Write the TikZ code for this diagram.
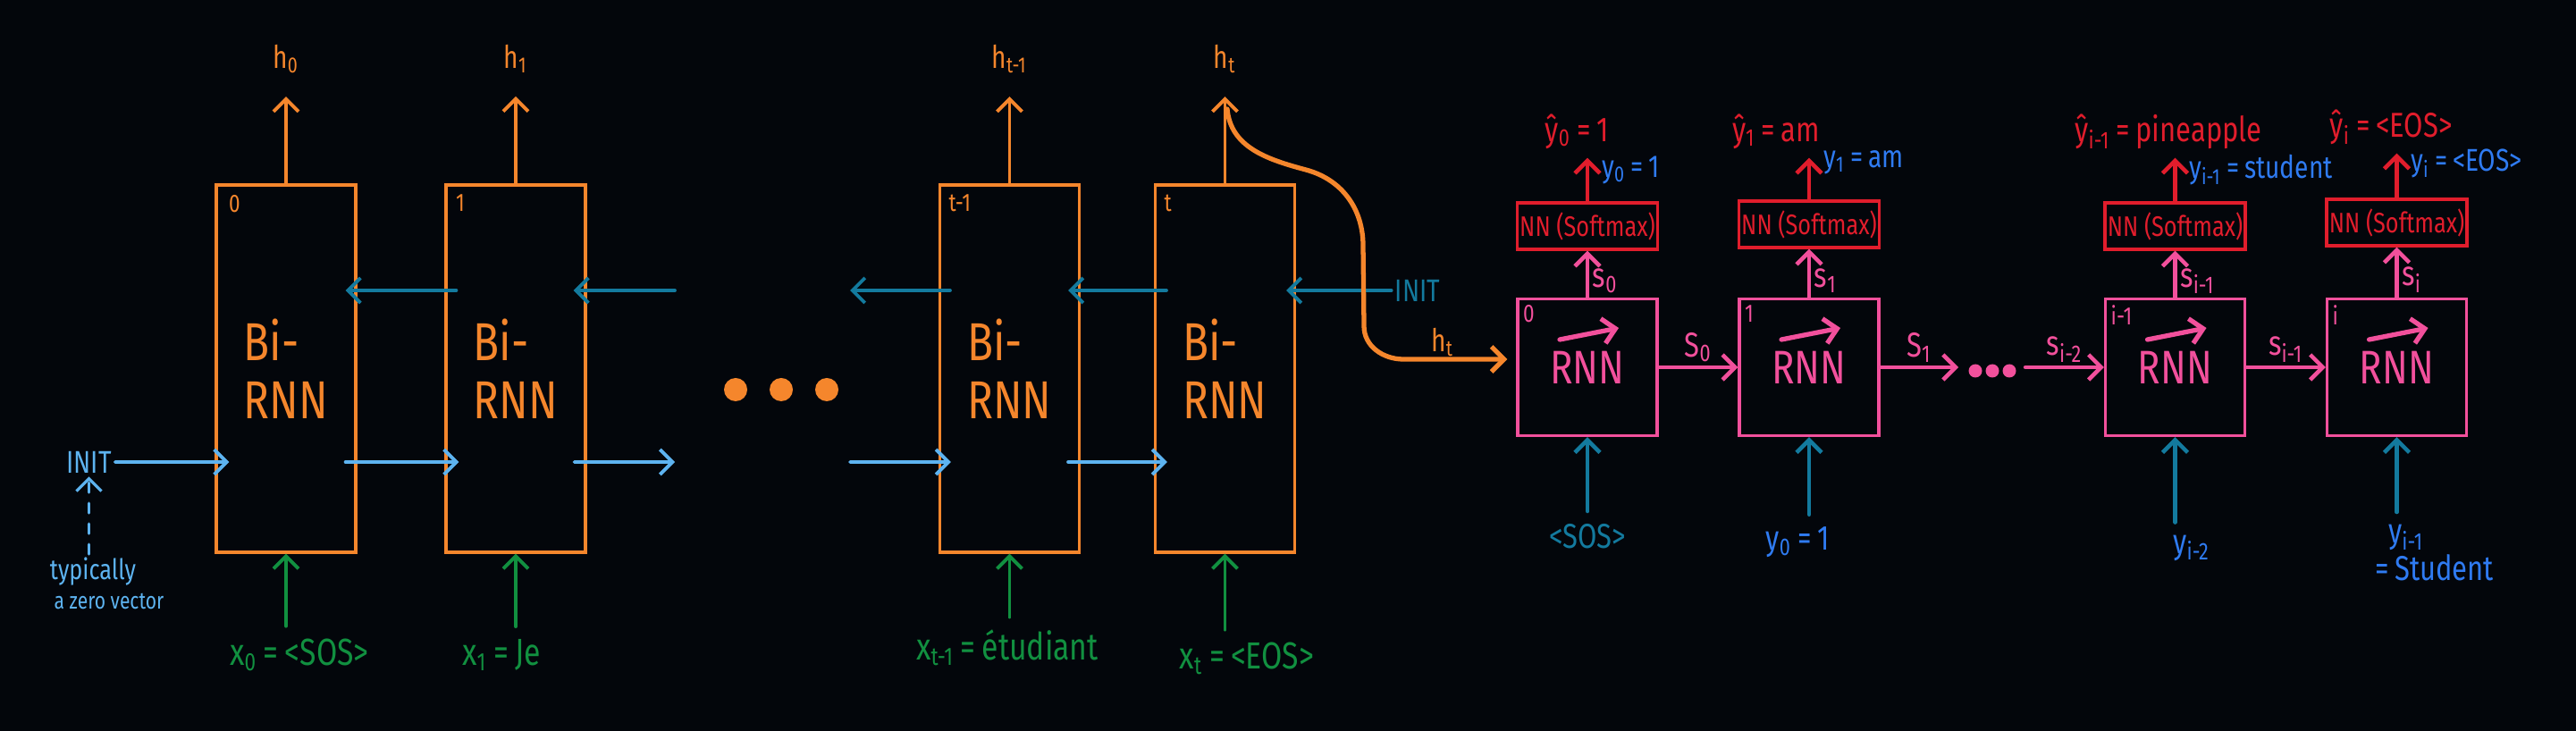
\documentclass[tikz,border=0pt]{standalone}
\usepackage{fontspec}
\setmainfont{Fira Sans}[FakeStretch=0.8]
\usetikzlibrary{arrows.meta, calc}
\definecolor{Bg}{HTML}{03060B}
\definecolor{OrangeA}{HTML}{F5862C}
\definecolor{TealA}{HTML}{137A9E}
\definecolor{SkyA}{HTML}{5DB3F0}
\definecolor{GreenA}{HTML}{119040}
\definecolor{PinkA}{HTML}{F2509C}
\definecolor{RedA}{HTML}{E11D2C}
\definecolor{BlueA}{HTML}{2F7BF2}
\tikzset{
  encbox/.style={draw=OrangeA, line width=0.9pt, minimum width=1.56cm,
                 minimum height=4.11cm, inner sep=0pt, text=OrangeA,
                 align=left, font=\fontsize{17}{18.5}\selectfont},
  decbox/.style={draw=PinkA, line width=0.9pt, minimum width=1.56cm,
                 minimum height=1.53cm, inner sep=0pt, text=PinkA,
                 font=\fontsize{15}{16}\selectfont},
  smbox/.style={draw=RedA, line width=0.9pt, minimum width=1.57cm,
                minimum height=0.52cm, inner sep=0pt, text=RedA,
                font=\fontsize{9}{10}\selectfont},
  idx/.style={anchor=north west, inner sep=0pt, font=\fontsize{8}{9}\selectfont},
  lbl/.style={inner sep=1pt, font=\fontsize{11}{12}\selectfont},
  yl/.style={lbl, text=BlueA, font=\fontsize{10}{11}\selectfont},
  hl/.style={lbl, text=OrangeA, font=\fontsize{10}{11}\selectfont},
  xl/.style={lbl, text=GreenA, font=\fontsize{12}{13}\selectfont},
  arr/.style={-{Straight Barb[length=1.4mm,width=2.8mm]}, line width=1.1pt,
              line cap=round},
  darr/.style={arr, line width=1.3pt},
}
\newcommand{\sbs}[1]{\textsubscript{#1}}

\begin{document}
\begin{tikzpicture}
  \fill[Bg] (0,0) rectangle (28.82,-8.18);
  \useasboundingbox (0,0) rectangle (28.82,-8.18);

  % encoder
  \node[encbox] (enc0)  at (3.20,-4.125)   {Bi-\\RNN};
  \node[encbox] (enc1)  at (5.77,-4.125)   {Bi-\\RNN};
  \node[encbox] (enct1) at (11.295,-4.125) {Bi-\\RNN};
  \node[encbox] (enct)  at (13.705,-4.125) {Bi-\\RNN};
  \node[idx, text=OrangeA] at ([shift={(0.15,-0.12)}]enc0.north west)  {0};
  \node[idx, text=OrangeA] at ([shift={(0.12,-0.12)}]enc1.north west)  {1};
  \node[idx, text=OrangeA] at ([shift={(0.11,-0.12)}]enct1.north west) {t-1};
  \node[idx, text=OrangeA] at ([shift={(0.11,-0.12)}]enct.north west)  {t};

  \node[hl] (h0)  at (3.20,-0.66)  {h\sbs{0}};
  \node[hl] (h1)  at (5.77,-0.66)  {h\sbs{1}};
  \node[hl] (ht1) at (11.295,-0.66) {h\sbs{t-1}};
  \node[hl] (ht)  at (13.705,-0.66) {h\sbs{t}};
  \draw[arr, OrangeA, shorten >=2.2mm] (enc0) -- (h0);
  \draw[arr, OrangeA, shorten >=2.2mm] (enc1) -- (h1);
  \draw[arr, OrangeA, shorten >=2.2mm] (enct1) -- (ht1);
  \draw[arr, OrangeA, shorten >=2.2mm] (enct) -- (ht);

  % backward direction
  \node[lbl, text=TealA, font=\fontsize{10}{11}\selectfont] (initR) at (15.86,-3.25) {INIT};
  \coordinate (bk1) at (7.55,-3.25);
  \coordinate (bk2) at (9.51,-3.25);
  \draw[arr, TealA] ([shift={(0.13,0.875)}]enc1.west) -- ([shift={(-0.13,0.875)}]enc0.east);
  \draw[arr, TealA] (bk1) -- ([shift={(-0.15,0.875)}]enc1.east);
  \draw[arr, TealA] ([shift={(0.13,0.875)}]enct1.west) -- (bk2);
  \draw[arr, TealA] ([shift={(0.14,0.875)}]enct.west) -- ([shift={(-0.14,0.875)}]enct1.east);
  \draw[arr, TealA] (initR.west) -- ([shift={(-0.11,0.875)}]enct.east);

  % forward direction
  \node[lbl, text=SkyA, font=\fontsize{10}{11}\selectfont] (initL) at (0.995,-5.17) {INIT};
  \coordinate (fw1) at (7.55,-5.17);
  \coordinate (fw2) at (9.51,-5.17);
  \draw[arr, SkyA] (initL.east) -- ([shift={(0.16,-1.045)}]enc0.west);
  \draw[arr, SkyA] ([shift={(-0.13,-1.045)}]enc0.east) -- ([shift={(0.16,-1.045)}]enc1.west);
  \draw[arr, SkyA] ([shift={(-0.14,-1.045)}]enc1.east) -- (fw1);
  \draw[arr, SkyA] (fw2) -- ([shift={(0.14,-1.045)}]enct1.west);
  \draw[arr, SkyA] ([shift={(-0.14,-1.045)}]enct1.east) -- ([shift={(0.15,-1.045)}]enct.west);

  \node[lbl, text=SkyA, font=\fontsize{9}{10}\selectfont] (typ) at (1.04,-6.40) {typically};
  \node[lbl, text=SkyA, font=\fontsize{7.5}{8}\selectfont] (zero) at (1.22,-6.73) {a zero vector};
  \draw[arr, SkyA, line width=0.9pt, dash pattern=on 1.1mm off 1.2mm]
       (typ.north -| initL.south) -- (initL.south);

  \foreach \x in {8.23,8.74,9.25}
    \fill[OrangeA] (\x,-4.36) circle (0.13);

  % inputs
  \node[xl] (x0)  at (3.35,-7.33)  {x\sbs{0}\,=\,<SOS>};
  \node[xl] (x1)  at (5.61,-7.33)  {x\sbs{1}\,=\,Je};
  \node[xl] (xt1) at (11.27,-7.25) {x\sbs{t-1}\,=\,étudiant};
  \node[xl] (xt)  at (13.95,-7.37) {x\sbs{t}\,=\,<EOS>};
  \draw[arr, GreenA, shorten <=1mm] (x0.north -| enc0.south) -- (enc0.south);
  \draw[arr, GreenA, shorten <=1mm] (x1.north -| enc1.south) -- (enc1.south);
  \draw[arr, GreenA, shorten <=1mm] (xt1.north -| enct1.south) -- (enct1.south);
  \draw[arr, GreenA, shorten <=1mm] (xt.north -| enct.south) -- (enct.south);

  % decoder
  \node[decbox] (dec0)  at (17.76,-4.11)  {\raisebox{-0.7mm}{RNN}};
  \node[decbox] (dec1)  at (20.24,-4.11)  {\raisebox{-0.7mm}{RNN}};
  \node[decbox] (deci1) at (24.335,-4.11) {\raisebox{-0.7mm}{RNN}};
  \node[decbox] (deci)  at (26.815,-4.11) {\raisebox{-0.7mm}{RNN}};
  \foreach \d in {dec0,dec1,deci1,deci}
    \draw[darr, PinkA, line width=1.5pt] ([shift={(-0.31,0.31)}]\d.center) -- ([shift={(0.35,0.44)}]\d.center);
  \node[idx, text=PinkA] at ([shift={(0.07,-0.08)}]dec0.north west)  {0};
  \node[idx, text=PinkA] at ([shift={(0.07,-0.08)}]dec1.north west)  {1};
  \node[idx, text=PinkA] at ([shift={(0.07,-0.08)}]deci1.north west) {i-1};
  \node[idx, text=PinkA] at ([shift={(0.07,-0.08)}]deci.north west)  {i};

  \coordinate (htsplit) at (13.73,-1.22);
  \draw[arr, OrangeA, line width=1.5pt, shorten >=1mm] (htsplit) to[out=-85,in=165] (14.61,-1.90)
       to[out=-15,in=90] (15.25,-2.75) -- (15.26,-3.65) to[out=-90,in=180] (15.70,-4.02)
       -- ([yshift=0.9mm]dec0.west);
  \node[hl] (htd) at (16.14,-3.83) {h\sbs{t}};

  \node[smbox] (sm0)  at (17.76,-2.53)  {NN (Softmax)};
  \node[smbox] (sm1)  at (20.24,-2.51)  {NN (Softmax)};
  \node[smbox] (smi1) at (24.335,-2.53) {NN (Softmax)};
  \node[smbox] (smi)  at (26.815,-2.49) {NN (Softmax)};
  \draw[darr, PinkA] (dec0)  -- node[lbl, text=PinkA, right, pos=0.35] {s\sbs{0}} (sm0);
  \draw[darr, PinkA] (dec1)  -- node[lbl, text=PinkA, right, pos=0.35] {s\sbs{1}} (sm1);
  \draw[darr, PinkA] (deci1) -- node[lbl, text=PinkA, right, pos=0.35] {s\sbs{i-1}} (smi1);
  \draw[darr, PinkA] (deci)  -- node[lbl, text=PinkA, right, pos=0.35] {s\sbs{i}} (smi);

  % outputs
  \node[lbl, text=RedA] (yh0)  at (17.64,-1.47) {ŷ\sbs{0}\,=\,1};
  \node[lbl, text=RedA] (yh1)  at (19.87,-1.47) {ŷ\sbs{1}\,=\,am};
  \node[lbl, text=RedA] (yhi1) at (24.26,-1.47) {ŷ\sbs{i-1}\,=\,pineapple};
  \node[lbl, text=RedA] (yhi)  at (26.75,-1.42) {ŷ\sbs{i}\,=\,<EOS>};
  \node[yl, anchor=west] (yo0)  at (17.88,-1.90) {y\sbs{0}\,=\,1};
  \node[yl, anchor=west] (yo1)  at (20.36,-1.82) {y\sbs{1}\,=\,am};
  \node[yl, anchor=west] (yoi1) at (24.45,-1.90) {y\sbs{i-1}\,=\,student};
  \node[yl, anchor=west] (yoi)  at (26.93,-1.83) {y\sbs{i}\,=\,<EOS>};
  \draw[darr, RedA, shorten >=0.6mm] (sm0)  -- (sm0.north |- yh0.south);
  \draw[darr, RedA, shorten >=0.6mm] (sm1)  -- (sm1.north |- yh1.south);
  \draw[darr, RedA, shorten >=0.6mm] (smi1) -- (smi1.north |- yhi1.south);
  \draw[darr, RedA, shorten >=0.6mm] (smi)  -- (smi.north |- yhi.south);

  % hidden states
  \coordinate (dotsL) at (21.91,-4.11);
  \coordinate (dotsR) at (22.66,-4.11);
  \draw[darr, PinkA] (dec0.east) -- node[lbl, text=PinkA, above] {S\sbs{0}} (dec1.west);
  \draw[darr, PinkA] (dec1.east) -- node[lbl, text=PinkA, above] {S\sbs{1}} (dotsL);
  \draw[darr, PinkA] (dotsR) -- node[lbl, text=PinkA, above] {s\sbs{i-2}} (deci1.west);
  \draw[darr, PinkA] (deci1.east) -- node[lbl, text=PinkA, above] {s\sbs{i-1}} (deci.west);
  \foreach \x in {22.10,22.29,22.48}
    \fill[PinkA] (\x,-4.15) circle (0.075);

  % decoder inputs
  \node[lbl, text=TealA] (sos)  at (17.76,-6.00) {<SOS>};
  \node[yl, font=\fontsize{11}{12}\selectfont] (yin0) at (20.11,-6.07) {y\sbs{0}\,=\,1};
  \node[yl, font=\fontsize{11}{12}\selectfont] (yin1) at (24.52,-6.13) {y\sbs{i-2}};
  \node[yl, font=\fontsize{11}{12}\selectfont, align=left, anchor=north west] (yin2)
       at (26.53,-5.83) {\hspace{1.5mm}y\sbs{i-1}\\=\,Student};
  \draw[darr, TealA, shorten <=1mm] (sos.north -| dec0.south) -- (dec0.south);
  \draw[darr, TealA, shorten <=1mm] (yin0.north -| dec1.south) -- (dec1.south);
  \draw[darr, TealA, shorten <=1mm] (yin1.north -| deci1.south) -- (deci1.south);
  \draw[darr, TealA, shorten <=1mm] (yin2.north -| deci.south) -- (deci.south);
\end{tikzpicture}
\end{document}
